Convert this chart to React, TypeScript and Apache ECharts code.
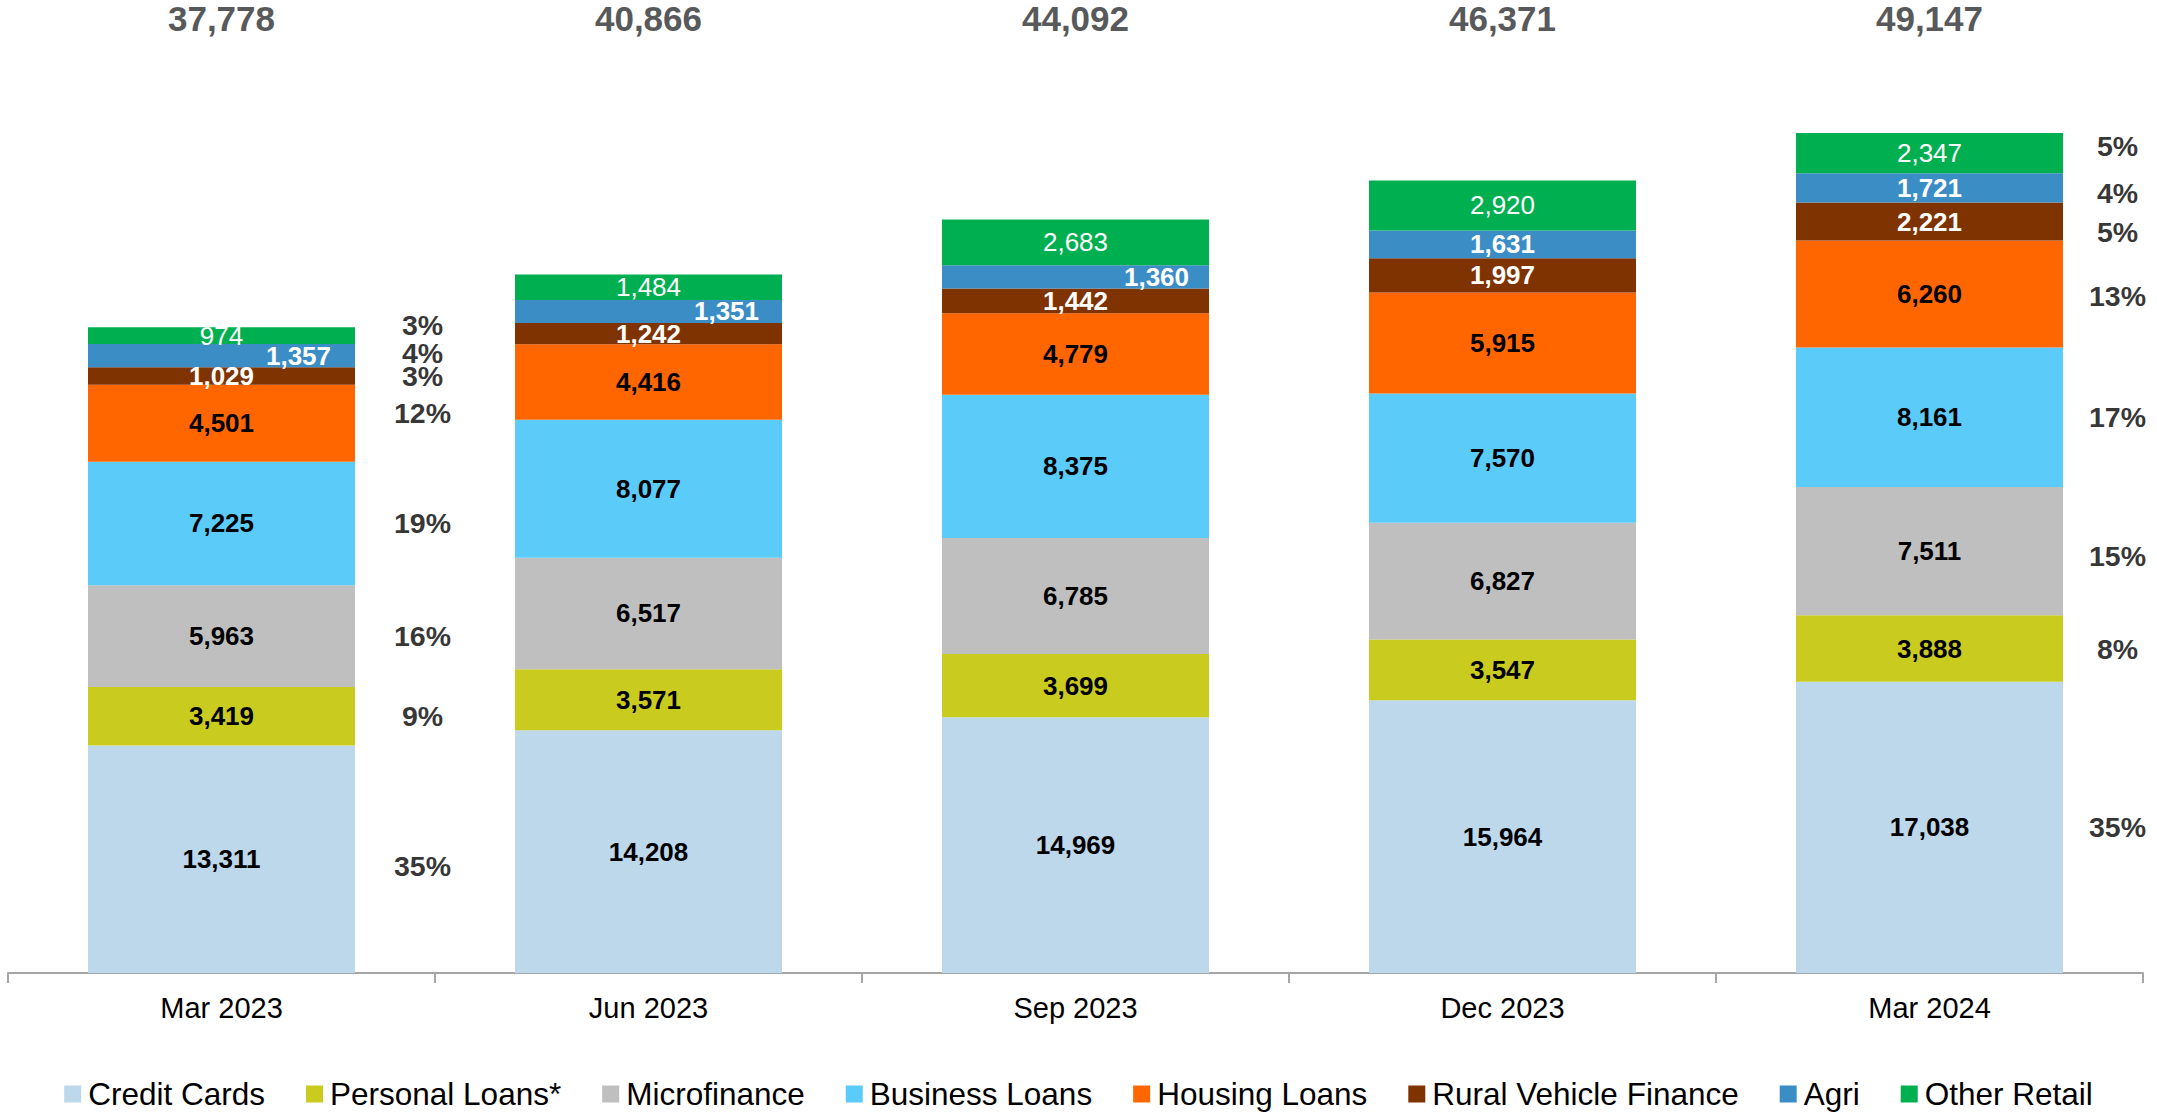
import React, { useEffect, useRef } from "react";
import * as echarts from "echarts";

const categories = ["Mar 2023", "Jun 2023", "Sep 2023", "Dec 2023", "Mar 2024"];
const totals = [37778, 40866, 44092, 46371, 49147];
const creditCards = [13311, 14208, 14969, 15964, 17038];
const personalLoans = [3419, 3571, 3699, 3547, 3888];
const microfinance = [5963, 6517, 6785, 6827, 7511];
const businessLoans = [7225, 8077, 8375, 7570, 8161];
const housingLoans = [4501, 4416, 4779, 5915, 6260];
const ruralVehicle = [1029, 1242, 1442, 1997, 2221];
const agri = [1357, 1351, 1360, 1631, 1721];
const otherRetail = [974, 1484, 2683, 2920, 2347];

const seriesNames = [
  "Credit Cards",
  "Personal Loans*",
  "Microfinance",
  "Business Loans",
  "Housing Loans",
  "Rural Vehicle Finance",
  "Agri",
  "Other Retail",
];
const seriesValues = [
  creditCards,
  personalLoans,
  microfinance,
  businessLoans,
  housingLoans,
  ruralVehicle,
  agri,
  otherRetail,
];
const colors = ["#BDD7EB", "#C9CC1F", "#BFBFBF", "#5BCBFA", "#FF6600", "#7F3300", "#3A8DC5", "#00B050"];

// categories that carry share-of-total labels on the right of the bar
const shareCategories = [0, 4];
// label placement tweaks (pixels)
const shareOffsetX: Record<number, number> = { 0: 201, 4: 188 };
const shareNudgeY: Record<number, number[]> = {
  0: [7, 0, 0, 0, -10, 0, -3, -11],
  4: [0, 0, 5, 0, 2, 10, 5, -7],
};
const agriOffsetX = [77, 78, 81, 0, 0];

const FONT = "'Liberation Sans', Arial, Helvetica, sans-serif";
const fmt = (n: number) => n.toLocaleString("en-US");

export default function App() {
  const ref = useRef<HTMLDivElement>(null);

  useEffect(() => {
    if (!ref.current) return;
    const chart = echarts.init(ref.current, undefined, { renderer: "svg" });

    const labelStyles = seriesNames.map((_, i) => {
      if (i === 5 || i === 6) return { color: "#FFFFFF", fontWeight: "bold" as const };
      if (i === 7) return { color: "#FFFFFF", fontWeight: "normal" as const };
      return { color: "#000000", fontWeight: "bold" as const };
    });

    const barSeries = seriesNames.map((name, i) => ({
      name,
      type: "bar",
      stack: "total",
      xAxisIndex: 0,
      barWidth: 267,
      itemStyle: { color: colors[i] },
      label: {
        show: true,
        position: "inside",
        fontFamily: FONT,
        fontSize: 26,
        lineHeight: 20,
        ...labelStyles[i],
        formatter: (p: any) => fmt(p.value),
      },
      data: seriesValues[i].map((v, c) =>
        i === 6 && agriOffsetX[c]
          ? { value: v, label: { offset: [agriOffsetX[c], 0] } }
          : v
      ),
    }));

    const shareData: any[] = [];
    shareCategories.forEach((c) => {
      let cum = 0;
      seriesValues.forEach((arr, i) => {
        const v = arr[c];
        const center = cum + v / 2;
        cum += v;
        const pct = Math.round((v / totals[c]) * 100);
        shareData.push({
          value: [c, center],
          label: { formatter: pct + "%", offset: [shareOffsetX[c], shareNudgeY[c][i]] },
        });
      });
    });

    chart.setOption({
      animation: false,
      grid: { left: 8, right: 14, top: 33, bottom: 140, containLabel: false },
      legend: {
        data: seriesNames,
        left: "center",
        top: 1077,
        padding: 0,
        icon: "rect",
        itemWidth: 17,
        itemHeight: 17,
        itemGap: 41,
        textStyle: {
          fontFamily: FONT,
          fontSize: 31.5,
          lineHeight: 34,
          color: "#000000",
          padding: [0, 0, 0, 2],
        },
      },
      xAxis: [
        {
          type: "category",
          data: categories,
          position: "bottom",
          axisLine: { show: true, lineStyle: { color: "#A6A6A6", width: 2 } },
          axisTick: { show: true, length: 10, lineStyle: { color: "#A6A6A6", width: 2 } },
          axisLabel: { fontFamily: FONT, fontSize: 29, color: "#000000", margin: 20, interval: 0 },
        },
        {
          type: "category",
          data: totals.map(fmt),
          position: "top",
          axisLine: { show: false },
          axisTick: { show: false },
          axisLabel: {
            fontFamily: FONT,
            fontSize: 35,
            fontWeight: "bold",
            color: "#58595B",
            margin: 15,
            verticalAlign: "middle",
            interval: 0,
          },
        },
      ],
      yAxis: {
        type: "value",
        min: 0,
        max: 55000,
        show: false,
        splitLine: { show: false },
      },
      series: [
        ...barSeries,
        {
          name: "share",
          type: "scatter",
          xAxisIndex: 0,
          symbolSize: 0,
          silent: true,
          label: {
            show: true,
            position: "inside",
            fontFamily: FONT,
            fontSize: 28.5,
            lineHeight: 20,
            fontWeight: "bold",
            color: "#000000",
          },
          data: shareData,
        },
      ],
    });

    return () => chart.dispose();
  }, []);

  return (
    <div
      ref={ref}
      style={{ position: "absolute", left: 0, top: 0, width: "2157px", height: "1113px" }}
    />
  );
}
